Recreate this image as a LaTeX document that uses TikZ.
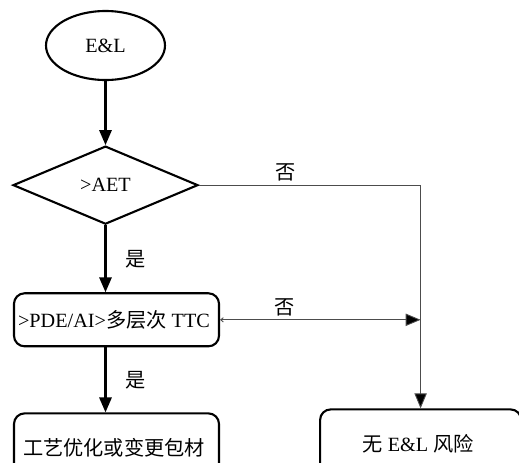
\documentclass[tikz,border=0pt]{standalone}
\usepackage{fontspec}
\setmainfont{Liberation Serif}
\newfontfamily\cjk{Noto Sans CJK SC}
\usepackage{tikz}
\usetikzlibrary{shapes.geometric, arrows.meta, positioning, calc}

\begin{document}
\begin{tikzpicture}[
        % --- TikZ Styles ---
        basenode/.style={
            draw, line width=1.2pt, align=center,
            font=\fontsize{11.5pt}{13pt}\selectfont, inner sep=2pt
        },
        startnode/.style={basenode, ellipse, minimum width=2.38cm, minimum height=1.38cm},
        decision/.style={basenode, diamond, minimum width=3.7cm, minimum height=1.36cm},
        processbox/.style={basenode, rectangle, rounded corners=6pt, minimum width=4.1cm, minimum height=1.06cm},
        arrow/.style={line width=1.2pt, -{Triangle[length=8.5pt, width=7pt]}},
        noline/.style={line width=0.5pt, draw=black!70, -{Triangle[length=8.5pt, width=7pt, fill=black]}},
        lbl/.style={font=\fontsize{11.5pt}{13pt}\selectfont\cjk, inner sep=2pt}
    ]

    % --- frame of the picture ---
    \clip (0,0) rectangle (10.38,-9.26);

    % --- 1. MAIN COLUMN ---
    \node[startnode] (start) at (2.11,-0.91) {E\&L};

    \node[decision, below=1.28cm of start] (aet) {>AET};

    \node[processbox, below=1.34cm of aet, xshift=0.22cm] (pde) {
        >PDE/AI>{\cjk 多层次} TTC
    };

    \node[processbox, below=1.3cm of pde, minimum height=1.36cm] (change) {
        {\cjk 工艺优化或变更包材}
    };

    % --- 2. RESULT ---
    \node[processbox, right=1.98cm of change, minimum width=4.02cm, minimum height=1.36cm, yshift=0.08cm] (norisk) {
        {\cjk 无} E\&L {\cjk 风险}
    };

    \coordinate (jtop) at (aet.east -| norisk.north);

% --- CONNECTIONS ---

    % 1. "Yes" path down the left column
    \draw[arrow] (start.south) -- (aet.north);
    \draw[arrow] (aet.south) -- node[lbl, right=0.3cm] {是} (aet.south |- pde.north);
    \draw[arrow] (aet.south |- pde.south) -- node[lbl, right=0.3cm] {是} (aet.south |- change.north);

    % 2. "No" paths to the right
    \draw[noline] (aet.east) -- node[lbl, pos=0.39, above] {否} (jtop) -- (norisk.north);
    \draw[noline, {Straight Barb[length=1.5pt, width=2.5pt]}-{Triangle[length=8.5pt, width=7pt, fill=black]}]
        (pde.east) -- node[lbl, pos=0.32, above] {否} (pde.east -| norisk.north);

    \end{tikzpicture}
\end{document}
